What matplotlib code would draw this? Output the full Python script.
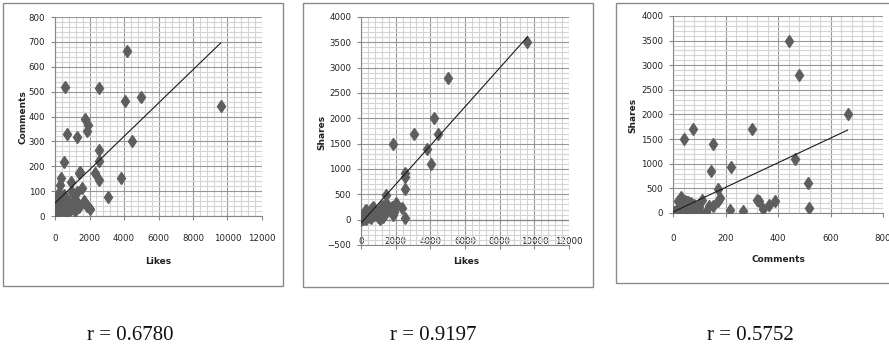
import numpy as np
import matplotlib
matplotlib.use('Agg')
import matplotlib.pyplot as plt
from matplotlib.patches import Rectangle
from matplotlib.ticker import MultipleLocator

# post data: likes, comments, shares (one entry per post)
likes = [9600, 5000, 4200, 4450, 3050, 1850, 3830, 4050, 2530, 2530,
         2530, 2530, 580, 1420, 2340, 1760, 1900, 1850, 1260, 680,
         520, 1460, 1550, 370, 910, 1260, 290, 1160, 1370, 1880,
         970, 200, 140,
         20, 40, 60, 80, 100, 120, 150, 170, 200, 220,
         250, 270, 300, 320, 350, 380, 400, 420, 450, 470,
         500, 520, 550, 570, 600, 620, 650, 680, 700, 750,
         800, 850, 900, 350, 420, 500, 600, 250, 300, 150,
         100, 50, 200, 450, 550, 650, 700, 750, 80, 130,
         1100, 1250, 1700, 2000, 1150, 960]
comments = [443, 480, 665, 300, 76, 40, 152, 464, 220, 145,
            513, 265, 518, 172, 172, 390, 365, 343, 319, 329,
            216, 178, 111, 152, 138, 98, 125, 64, 38, 42,
            98, 90, 78,
            2, 5, 8, 3, 12, 6, 15, 20, 10, 25,
            30, 18, 35, 22, 40, 28, 45, 50, 32, 55,
            38, 60, 42, 65, 48, 70, 52, 58, 45, 62,
            55, 40, 30, 80, 70, 25, 20, 45, 60, 50,
            40, 20, 65, 75, 85, 35, 28, 18, 30, 10,
            40, 55, 60, 30, 20, 45]
shares = [3500, 2800, 2000, 1700, 1700, 1500, 1400, 1100, 930, 850,
          600, 40, 100, 480, 240, 250, 160, 90, 270, 240,
          55, 310, 270, 150, 150, 130, 20, 80, 110, 200,
          60, 120, 90,
          0, 5, 10, 15, 20, 30, 35, 40, 50, 60,
          70, 80, 85, 90, 100, 110, 120, 130, 140, 150,
          160, 170, 180, 190, 200, 210, 220, 230, 250, 180,
          150, 120, 100, 160, 90, 60, 40, 180, 200, 120,
          80, 30, 140, 110, 70, 100, 130, 90, 50, 5,
          20, 60, 200, 330, 250, 120]

# linear trendlines (slope, intercept)
trend_slope = [0.067, 0.383, 2.5]
trend_intercept = [52, -70, 20]
r_values = ['r = 0.6780', 'r = 0.9197', 'r = 0.5752']

W, H = 889, 351
fig = plt.figure(figsize=(W/100, H/100), dpi=100)

def px_rect(l, t, r, b):
    return [l/W, 1-b/H, (r-l)/W, (b-t)/H]

tick_font = ['Liberation Sans Narrow', 'DejaVu Sans Condensed', 'DejaVu Sans']
label_font = ['Liberation Sans Narrow', 'DejaVu Sans Condensed', 'DejaVu Sans']

panels = [
    dict(x=likes, y=comments, rect=(55, 17, 262, 216), xlim=(0, 12000), ylim=(0, 800),
         xmaj=2000, xmin=400, ymaj=100, ymin=20, xlabel='Likes', ylabel='Comments',
         frame=(3, 3, 283, 286), xlab_pos=(158, 262), ylab_pos=(23, 117), xpad=10, rpos=130),
    dict(x=likes, y=shares, rect=(361, 17, 569, 245), xlim=(0, 12000), ylim=(-500, 4000),
         xmaj=2000, xmin=400, ymaj=500, ymin=100, xlabel='Likes', ylabel='Shares',
         frame=(303, 3, 593, 287), xlab_pos=(466, 262), ylab_pos=(322, 132), xpad=-9, rpos=433),
    dict(x=comments, y=shares, rect=(673, 16, 883, 213), xlim=(0, 800), ylim=(0, 4000),
         xmaj=200, xmin=40, ymaj=500, ymin=100, xlabel='Comments', ylabel='Shares',
         frame=(616, 3, 900, 283), xlab_pos=(778, 259), ylab_pos=(633, 115), xpad=12, rpos=750),
]

for i, p in enumerate(panels):
    l, t, r, b = p['frame']
    fig.patches.append(Rectangle((l/W, 1-b/H), (r-l)/W, (b-t)/H, transform=fig.transFigure,
                                 fill=False, edgecolor='#8a8a8a', linewidth=1.0))
    ax = fig.add_axes(px_rect(*p['rect']))
    ax.set_xlim(p['xlim'])
    ax.set_ylim(p['ylim'])
    ax.xaxis.set_major_locator(MultipleLocator(p['xmaj']))
    ax.xaxis.set_minor_locator(MultipleLocator(p['xmin']))
    ax.yaxis.set_major_locator(MultipleLocator(p['ymaj']))
    ax.yaxis.set_minor_locator(MultipleLocator(p['ymin']))
    ax.grid(which='minor', color='#d4d4d4', linewidth=0.8)
    ax.grid(which='major', color='#969696', linewidth=0.8)
    ax.set_axisbelow(True)
    for s in ['top', 'right']:
        ax.spines[s].set_visible(False)
    for s in ['left', 'bottom']:
        ax.spines[s].set_color('#868686')
    if p['ylim'][0] < 0:
        ax.axhline(0, color='#868686', linewidth=0.9, zorder=1)
    ax.tick_params(which='minor', length=0)
    ax.tick_params(which='major', length=3, color='#868686', labelsize=6.2, pad=p['xpad'], axis='x')
    ax.tick_params(which='major', length=3, color='#868686', labelsize=6.2, pad=4, axis='y')
    for lab in ax.get_xticklabels() + ax.get_yticklabels():
        lab.set_family(tick_font)
        lab.set_color('#222222')

    ax.plot(p['x'], p['y'], linestyle='none', marker='d', markersize=6.5,
            color='#5e5e5e', markeredgecolor='#5e5e5e', zorder=3)
    xs = np.array([min(p['x']), max(p['x'])])
    ax.plot(xs, trend_slope[i]*xs + trend_intercept[i], color='#1a1a1a', linewidth=0.8, zorder=4)

    fig.text(p['xlab_pos'][0]/W, 1-p['xlab_pos'][1]/H, p['xlabel'], ha='center', va='center',
             fontsize=6.5, fontweight='bold', family=label_font, color='#222222')
    fig.text(p['ylab_pos'][0]/W, 1-p['ylab_pos'][1]/H, p['ylabel'], ha='center', va='center',
             rotation=90, fontsize=6.5, fontweight='bold', family=label_font, color='#222222')
    fig.text(p['rpos']/W, 1-336/H, r_values[i], ha='center', va='center',
             fontsize=15, family=['Liberation Serif', 'DejaVu Serif'], color='#111111')

fig.savefig('out.png', dpi=100)
